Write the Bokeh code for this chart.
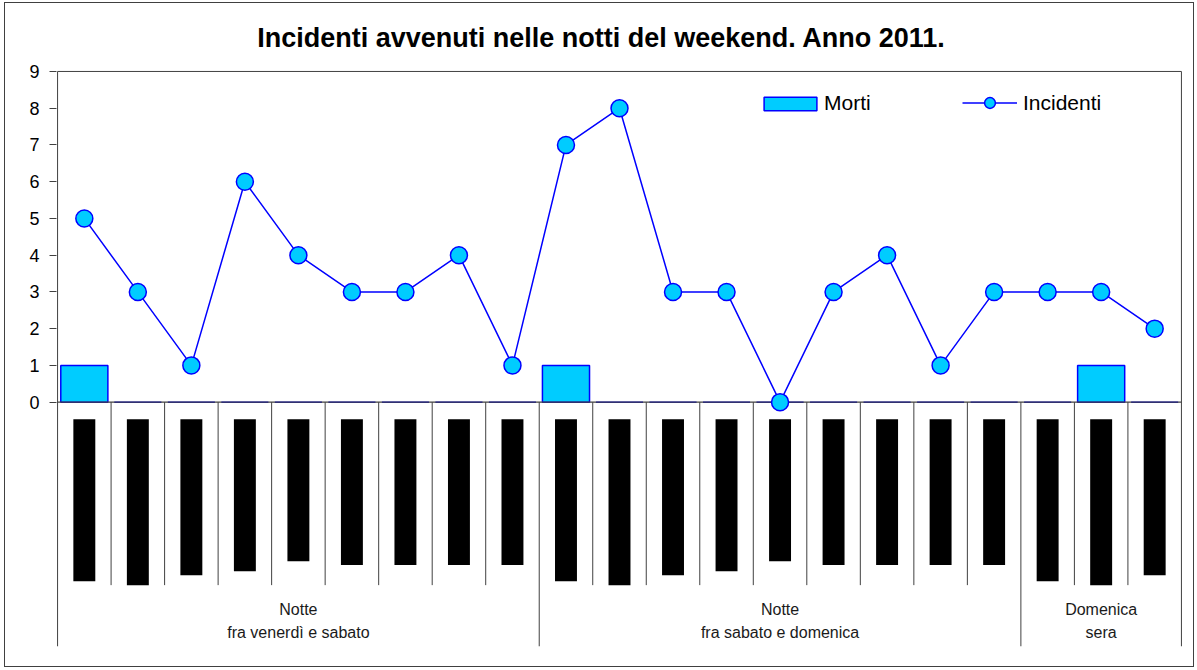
from bokeh.plotting import figure
from bokeh.models import Range1d, Legend, LegendItem, Label, FixedTicker
from bokeh.embed import file_html
from bokeh.resources import INLINE
from bokeh.core.properties import value

# ---------------- data ----------------
title_text = "Incidenti avvenuti nelle notti del weekend. Anno 2011."
incidenti = [5, 3, 1, 6, 4, 3, 3, 4, 1, 7, 8, 3, 3, 0, 3, 4, 1, 3, 3, 3, 2]
morti = [1, 0, 0, 0, 0, 0, 0, 0, 0, 1, 0, 0, 0, 0, 0, 0, 0, 0, 0, 1, 0]
# the rotated hour labels under each category are rendered as solid black blocks;
# their extent (in y-axis units)
hour_label_len = [4.41, 4.52, 4.25, 4.14, 3.87, 3.97, 3.97, 3.97, 3.97,
                  4.41, 4.52, 4.25, 4.14, 3.87, 3.97, 3.97, 3.97, 3.97,
                  4.41, 4.52, 4.25]
group_line1 = ["Notte", "Notte", "Domenica"]
group_line2 = ["fra venerdì e sabato", "fra sabato e domenica", "sera"]
group_sizes = [9, 9, 3]
y_ticks = [0, 1, 2, 3, 4, 5, 6, 7, 8, 9]

# ---------------- derived ----------------
n = len(incidenti)
xs = list(range(n))
group_starts = [sum(group_sizes[:i]) for i in range(len(group_sizes))]
group_centers = [s + g / 2 - 0.5 for s, g in zip(group_starts, group_sizes)]
group_bounds = [s - 0.5 for s in group_starts[1:]]
cat_bounds = [k - 0.5 for k in range(1, n) if (k - 0.5) not in group_bounds]
edges = [-0.5, n - 0.5]

FONT = "Liberation Sans"
LINE_C = "#404040"
BLUE = "#0000FF"
CYAN = "#00CCFF"

Y_TOP = 9
Y_FRAME_TOP = 10.55
Y_BOTTOM = -6.65
LBL_TOP = -0.463
PAD = 0.02

p = figure(width=1190, height=665, output_backend="svg", toolbar_location=None,
           x_range=Range1d(-0.5 - PAD, n - 0.5 + PAD), y_range=Range1d(Y_BOTTOM, Y_FRAME_TOP),
           min_border_left=51, min_border_right=13, min_border_top=11,
           min_border_bottom=22, tools="")
p.styles = {"border": "1px solid #404040", "margin-left": "4px", "margin-top": "2px"}
p.outline_line_color = None
p.xgrid.visible = False
p.ygrid.visible = False
p.xaxis.visible = False

ax = p.yaxis[0]
ax.bounds = (0, 9)
ax.ticker = FixedTicker(ticks=y_ticks)
ax.axis_line_color = None
ax.major_tick_in = 0
ax.major_tick_out = 7
ax.minor_tick_line_color = None
ax.major_tick_line_color = LINE_C
ax.major_label_standoff = 10
ax.major_label_text_font = FONT
ax.major_label_text_font_size = "18px"
ax.major_label_text_color = "black"

# plot-area border (top and sides)
p.segment(x0=[edges[0]], x1=[edges[1]], y0=[Y_TOP], y1=[Y_TOP], line_color=LINE_C, line_width=1)
p.segment(x0=edges, x1=edges, y0=[Y_TOP] * 2, y1=[Y_BOTTOM] * 2, line_color=LINE_C, line_width=1)

# category separators and group separators below the axis
p.segment(x0=cat_bounds, x1=cat_bounds, y0=[0] * len(cat_bounds), y1=[-4.98] * len(cat_bounds),
          line_color=LINE_C, line_width=1)
p.segment(x0=group_bounds, x1=group_bounds, y0=[0] * len(group_bounds),
          y1=[Y_BOTTOM] * len(group_bounds), line_color=LINE_C, line_width=1)

# hour labels (black blocks)
p.vbar(x=xs, width=0.41, top=[LBL_TOP] * n, bottom=[LBL_TOP - v for v in hour_label_len],
       fill_color="black", line_color=None)

# group labels
p.text(x=group_centers, y=[-5.63] * 3, text=group_line1, text_align="center",
       text_baseline="alphabetic", text_font=value(FONT), text_font_size="16px",
       text_color="#1a1a1a")
p.text(x=group_centers, y=[-6.26] * 3, text=group_line2, text_align="center",
       text_baseline="alphabetic", text_font=value(FONT), text_font_size="16px",
       text_color="#1a1a1a")

# Morti bars
bars = p.vbar(x=xs, top=morti, width=0.88, fill_color=CYAN, line_color=BLUE, line_width=1.5)

# axis line at 0
p.segment(x0=[edges[0]], x1=[edges[1]], y0=[0], y1=[0], line_color=LINE_C, line_width=1.2)

# Incidenti line
line_r = p.line(xs, incidenti, line_color=BLUE, line_width=1.5, level="overlay")
pts = p.scatter(xs, incidenti, size=17, marker="circle", fill_color=CYAN, line_color=BLUE,
                line_width=1.5, level="overlay")

# title
p.add_layout(Label(x=(n - 1) / 2 - 0.336, y=Y_TOP + 0.9, text=title_text, text_align="center",
                   text_baseline="alphabetic", text_font=FONT, text_font_size="27px",
                   text_font_style="bold", text_color="black"))

# legends
leg1 = Legend(items=[LegendItem(label="Morti", renderers=[bars])], orientation="horizontal",
              location=(701, 531), glyph_width=66, glyph_height=17, label_standoff=1,
              padding=0, margin=0, border_line_color=None, background_fill_alpha=0,
              label_text_font=FONT, label_text_font_size="21px", label_text_color="black")
leg2 = Legend(items=[LegendItem(label="Incidenti", renderers=[line_r, pts])],
              orientation="horizontal", location=(906, 530), glyph_width=55, glyph_height=27,
              label_standoff=6, padding=0, margin=0, border_line_color=None,
              background_fill_alpha=0, label_text_font=FONT, label_text_font_size="21px",
              label_text_color="black")
p.add_layout(leg1)
p.add_layout(leg2)

open("out.html", "w").write(file_html(p, INLINE))
